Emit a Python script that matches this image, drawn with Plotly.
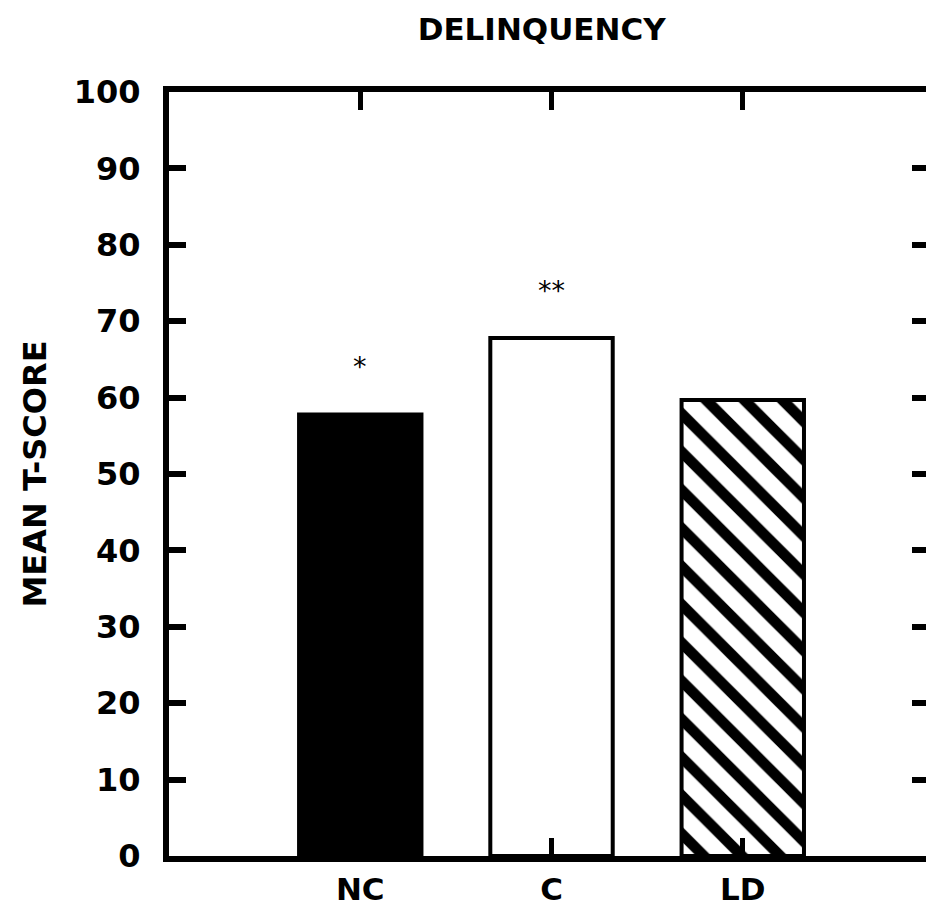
import plotly.graph_objects as go

categories = ["NC", "C", "LD"]
values = [57.8, 67.8, 59.7]
marks = ["*", "**", ""]
y_ticks = [0, 10, 20, 30, 40, 50, 60, 70, 80, 90, 100]
title_text = "DELINQUENCY"
y_title = "MEAN T-SCORE"

FONT = "DejaVu Sans"

fig = go.Figure()

fig.add_trace(go.Bar(
    x=categories,
    y=values,
    width=0.64,
    marker=dict(
        color=["black", "white", "black"],
        line=dict(color="black", width=4),
        pattern=dict(
            shape=["", "", "\\"],
            size=27,
            solidity=0.4,
            fgopacity=1,
            bgcolor="#ffffff",
            fillmode="replace",
        ),
    ),
    showlegend=False,
    hoverinfo="skip",
))

# invisible trace for right-hand tick axis
fig.add_trace(go.Scatter(
    x=categories, y=values, yaxis="y2", mode="markers",
    marker=dict(opacity=0), showlegend=False, hoverinfo="skip",
))

for c, v, m in zip(categories, values, marks):
    if m:
        fig.add_annotation(
            x=c, y=v, text=m, showarrow=False, yshift=48,
            font=dict(family=FONT, size=27, color="black"),
        )

fig.update_layout(
    width=926, height=907,
    margin=dict(l=169, r=0, t=92, b=49),
    paper_bgcolor="white", plot_bgcolor="white",
    title=dict(
        text=title_text, x=0.585, xanchor="center", y=0.968, yanchor="middle",
        font=dict(family=FONT, size=31, color="black", weight="bold"),
    ),
    xaxis=dict(
        type="category", range=[-1, 2.958],
        showline=True, linecolor="black", linewidth=6, mirror="ticks",
        ticks="inside", ticklen=18, tickwidth=5, tickcolor="black",
        tickfont=dict(family=FONT, size=31, color="black", weight="bold"),
        showgrid=False, zeroline=False, ticklabelstandoff=1,
    ),
    yaxis=dict(
        range=[0, 100], tickvals=y_ticks,
        showline=True, linecolor="black", linewidth=6,
        ticks="inside", ticklen=17, tickwidth=6, tickcolor="black",
        tickfont=dict(family=FONT, size=32, color="black", weight="bold"),
        showgrid=False, zeroline=False, ticklabelstandoff=16,
        title=dict(text=y_title, standoff=20,
                   font=dict(family=FONT, size=32, color="black", weight="bold")),
    ),
    yaxis2=dict(
        range=[0, 100], tickvals=y_ticks, overlaying="y", side="right",
        showline=False, ticks="inside", ticklen=14, tickwidth=6, tickcolor="black",
        showticklabels=False, showgrid=False, zeroline=False,
    ),
)

fig.write_html("out.html")
